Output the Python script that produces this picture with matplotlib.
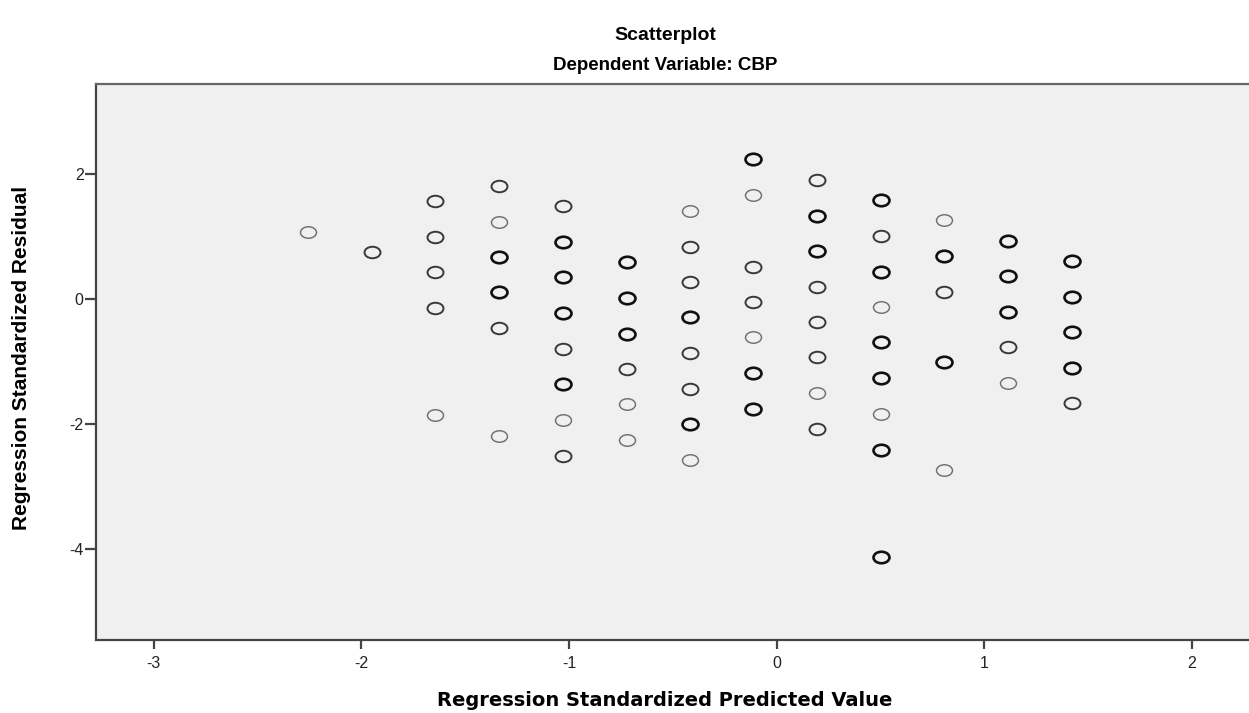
import matplotlib
matplotlib.use("Agg")
import matplotlib.pyplot as plt
from matplotlib.path import Path
from matplotlib.transforms import Affine2D

plt.rcParams["axes.unicode_minus"] = False

# predicted value of each vertical column of cases
pred_cols = [-2.255, -1.950, -1.645, -1.337, -1.031, -0.722, -0.417,
             -0.113, 0.194, 0.501, 0.805, 1.112, 1.420]

# standardized residuals in each column
resid_cols = [
    [1.07],
    [0.75],
    [1.57, 1.00, 0.43, -0.14, -1.85],
    [1.82, 1.24, 0.67, 0.11, -0.46, -2.18],
    [1.49, 0.92, 0.35, -0.22, -0.80, -1.36, -1.93, -2.50],
    [0.59, 0.02, -0.55, -1.12, -1.68, -2.25],
    [1.42, 0.84, 0.27, -0.29, -0.86, -1.44, -2.00, -2.57],
    [2.24, 1.67, 0.52, -0.05, -0.61, -1.18, -1.76],
    [1.91, 1.34, 0.77, 0.20, -0.37, -0.93, -1.50, -2.08],
    [1.59, 1.01, 0.44, -0.13, -0.69, -1.26, -1.84, -2.41, -4.12],
    [1.27, 0.69, 0.12, -1.01, -2.73],
    [0.94, 0.37, -0.20, -0.77, -1.34],
    [0.62, 0.04, -0.53, -1.10, -1.66],
]

# how many cases overlap at each point (1 = single, 3 = many)
overlap_cols = [
    [1],
    [2],
    [2, 2, 2, 2, 1],
    [2, 1, 3, 3, 2, 1],
    [2, 3, 3, 3, 2, 3, 1, 2],
    [3, 3, 3, 2, 1, 1],
    [1, 2, 2, 3, 2, 2, 3, 1],
    [3, 1, 2, 2, 1, 3, 3],
    [2, 3, 3, 2, 2, 2, 1, 2],
    [3, 2, 3, 1, 3, 3, 1, 3, 3],
    [1, 3, 2, 3, 1],
    [3, 3, 3, 2, 1],
    [3, 3, 3, 3, 2],
]

x_ticks = [-3, -2, -1, 0, 1, 2]
y_ticks = [-4, -2, 0, 2]

styles = {1: ("#707070", 1.05), 2: ("#383838", 1.4), 3: ("#101010", 1.9)}

ellipse = Path.unit_circle().transformed(Affine2D().scale(1.0, 0.72))

fig = plt.figure(figsize=(12.49, 7.13), dpi=100)
ax = fig.add_axes([96 / 1249, 1 - 640 / 713, 1 - 96 / 1249, (640 - 84) / 713])
ax.set_facecolor("#f0f0f0")

for x, ys, ws in zip(pred_cols, resid_cols, overlap_cols):
    for y, w in zip(ys, ws):
        col, lw = styles[w]
        ax.plot(x, y, marker=ellipse, markersize=11.5, markerfacecolor="none",
                markeredgecolor=col, markeredgewidth=lw, linestyle="none")

ax.set_xlim(-3.277, 2.274)
ax.set_ylim(-5.451, 3.445)
ax.set_xticks(x_ticks)
ax.set_yticks(y_ticks)
ax.tick_params(axis="x", length=6.5, width=1.6, color="#444444", labelsize=11.5,
               labelcolor="#222222", pad=5)
ax.tick_params(axis="y", length=8, width=1.6, color="#444444", labelsize=11.5,
               labelcolor="#222222", pad=1)
for lab in ax.get_xticklabels() + ax.get_yticklabels():
    lab.set_family("Liberation Sans")

for side in ["left", "bottom"]:
    ax.spines[side].set_color("#444444")
    ax.spines[side].set_linewidth(1.6)
ax.spines["top"].set_color("#666666")
ax.spines["top"].set_linewidth(1.6)
ax.spines["right"].set_visible(False)

fig.text(665 / 1249, 1 - 35 / 713, "Scatterplot", ha="center", va="center",
         fontsize=14, fontweight="bold", family="Liberation Sans")
fig.text(665 / 1249, 1 - 66 / 713, "Dependent Variable: CBP", ha="center", va="center",
         fontsize=13.5, fontweight="bold", family="Liberation Sans")
fig.text(665 / 1249, 1 - 700 / 713, "Regression Standardized Predicted Value",
         ha="center", va="center", fontsize=14, fontweight="bold", family="DejaVu Sans")
fig.text(22 / 1249, 1 - 358 / 713, "Regression Standardized Residual", rotation=90,
         ha="center", va="center", fontsize=15, fontweight="bold",
         family="Liberation Sans")

fig.savefig("out.png", dpi=100)
